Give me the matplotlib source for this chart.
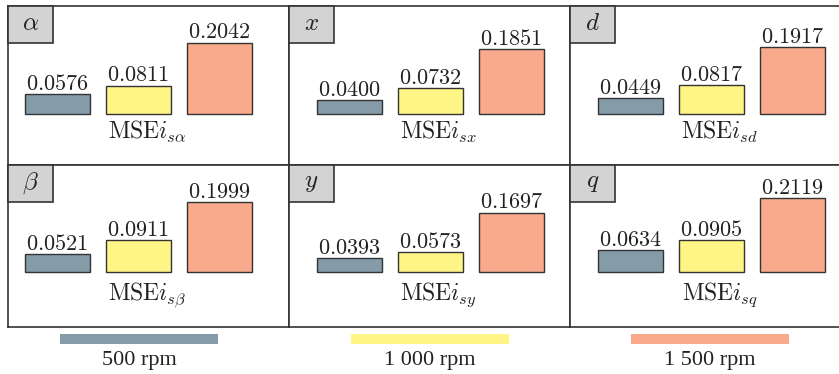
import matplotlib
matplotlib.use("Agg")
import matplotlib.pyplot as plt
from matplotlib.patches import Rectangle

plt.rcParams['font.family'] = ['Liberation Serif', 'DejaVu Serif']
plt.rcParams['mathtext.fontset'] = 'cm'

# MSE per signal, for 500 / 1000 / 1500 rpm
signals = [r'$\alpha$', r'$x$', r'$d$', r'$\beta$', r'$y$', r'$q$']
subs = [r'\alpha', 'x', 'd', r'\beta', 'y', 'q']
mse_500 = [0.0576, 0.0400, 0.0449, 0.0521, 0.0393, 0.0634]
mse_1000 = [0.0811, 0.0732, 0.0817, 0.0911, 0.0573, 0.0905]
mse_1500 = [0.2042, 0.1851, 0.1917, 0.1999, 0.1697, 0.2119]
speeds = ['500 rpm', '1 000 rpm', '1 500 rpm']
colors = ['#859ba8', '#fff587', '#f9a98c']

W, H = 839, 374
fig = plt.figure(figsize=(W / 100, H / 100), dpi=100)

col_x = [8, 289, 570]          # left edge of each column (px)
row_y = [(6, 165), (165, 327)]  # top/bottom of each row (px)
panel_w = 281
bar_pad = [49.5, 60.5, 60.5]    # first bar centre from left edge (px)
base_px = [51, 55]              # bar base above panel bottom (px)
px_per_unit = 350.0
px_per_x = 81.0

edge = '#333333'
ink = '#222222'

for i in range(6):
    r, c = divmod(i, 3)
    top, bot = row_y[r]
    ph = bot - top
    ax = fig.add_axes([col_x[c] / W, 1 - bot / H, panel_w / W, ph / H])
    vals = [mse_500[i], mse_1000[i], mse_1500[i]]
    ax.bar(range(3), vals, width=0.8, color=colors, edgecolor=edge, linewidth=1.0)
    for k, v in enumerate(vals):
        ax.annotate('$%.4f$' % v, (k, v), xytext=(0, 3), textcoords='offset points',
                    ha='center', va='baseline', fontsize=16, color=ink)
    x0 = -bar_pad[c] / px_per_x
    ax.set_xlim(x0, x0 + panel_w / px_per_x)
    y0 = -base_px[r] / px_per_unit
    ax.set_ylim(y0, y0 + ph / px_per_unit)
    ax.set_xticks([])
    ax.set_yticks([])
    for s in ax.spines.values():
        s.set_color(edge)
        s.set_linewidth(1.2)

    # signal tag in the top-left corner
    bw, bh = 45 / panel_w, 37 / ph
    ax.add_patch(Rectangle((0, 1 - bh), bw, bh, transform=ax.transAxes,
                           facecolor='#d3d3d3', edgecolor=edge, linewidth=1.2,
                           clip_on=False, zorder=3))
    ax.text(bw / 2, 1 - bh / 2, signals[i], transform=ax.transAxes,
            ha='center', va='center', fontsize=18, color=ink, zorder=4)

    ax.annotate(r'$\mathrm{MSE}i_{s%s}$' % subs[i], (1, 0.165),
                xycoords=('data', 'axes fraction'), xytext=(6, 0),
                textcoords='offset points', ha='center', va='baseline',
                fontsize=17, color=ink)

# colour key under the panels
key_x = [139, 429.5, 710]
for k in range(3):
    fig.add_artist(Rectangle(((key_x[k] - 79) / W, 1 - 344 / H), 158 / W, 10 / H,
                             transform=fig.transFigure, facecolor=colors[k],
                             edgecolor='none'))
    fig.text(key_x[k] / W, 1 - 365 / H, speeds[k], ha='center', va='baseline',
             fontsize=16, color=ink)

fig.savefig('out.png', dpi=100)
